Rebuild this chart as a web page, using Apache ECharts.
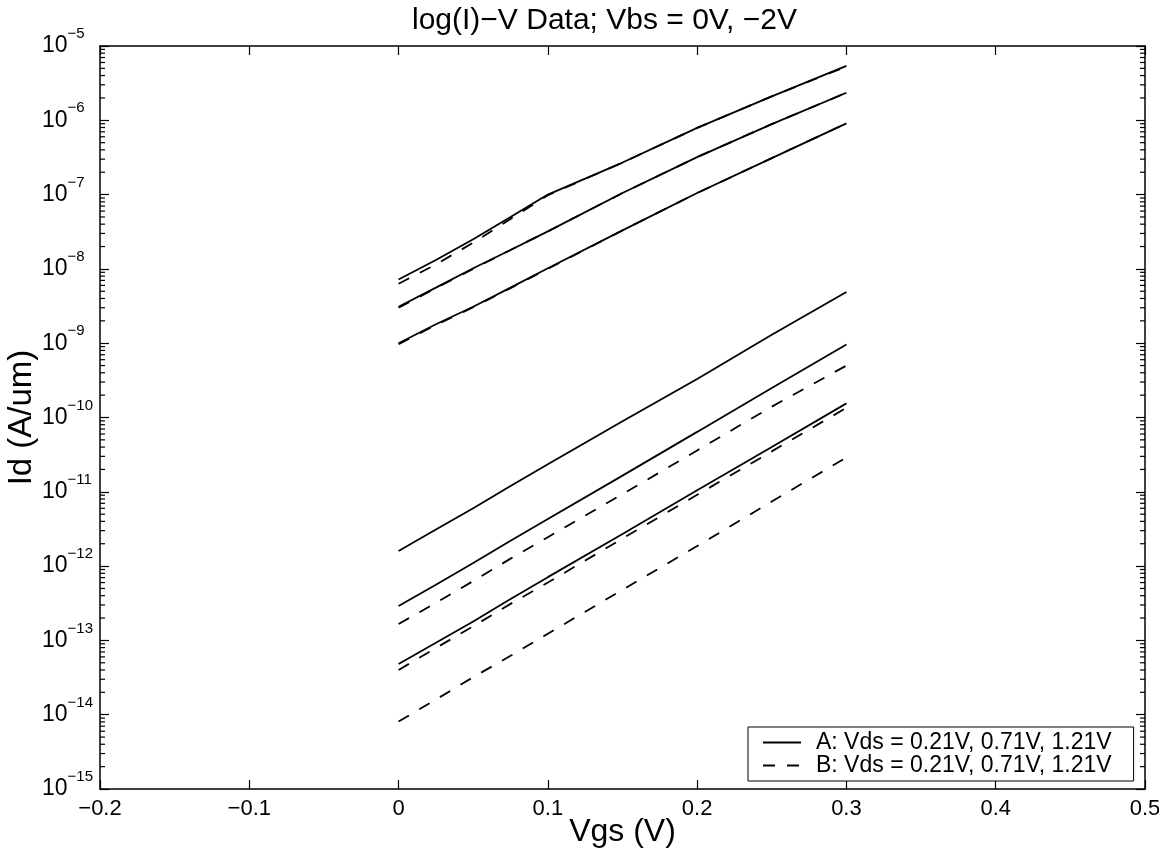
<!DOCTYPE html>
<html><head><meta charset="utf-8">
<script src="https://cdn.jsdelivr.net/npm/echarts@6/dist/echarts.min.js"></script>
<style>html,body{margin:0;padding:0;background:#fff}#c{width:1159px;height:858px}</style>
</head><body><div id="c"></div>
<script>
// Gate voltage samples (V)
const vgs = [0, 0.025, 0.05, 0.075, 0.1, 0.15, 0.2, 0.25, 0.3];

// Vbs = 0 V group (upper)
const aVbs0_121 = [7.2e-9, 1.32e-8, 2.5e-8, 5.0e-8, 1.0e-7, 2.7e-7, 7.9e-7, 2.1e-6, 5.4e-6];
const aVbs0_071 = [3.1e-9, 5.6e-9, 1.02e-8, 1.8e-8, 3.2e-8, 1.05e-7, 3.2e-7, 8.9e-7, 2.35e-6];
const aVbs0_021 = [1.0e-9, 1.8e-9, 3.1e-9, 5.6e-9, 1.02e-8, 3.3e-8, 1.05e-7, 3.1e-7, 9.1e-7];
const bVbs0_121 = [6.3e-9, 1.15e-8, 2.25e-8, 4.7e-8, 9.8e-8, 2.7e-7, 7.9e-7, 2.1e-6, 5.3e-6];
const bVbs0_071 = [3.0e-9, 5.5e-9, 1.0e-8, 1.8e-8, 3.2e-8, 1.05e-7, 3.2e-7, 8.9e-7, 2.35e-6];
const bVbs0_021 = [0.97e-9, 1.75e-9, 3.05e-9, 5.5e-9, 1.0e-8, 3.3e-8, 1.05e-7, 3.1e-7, 9.1e-7];

// Vbs = -2 V group (lower)
const aVbs2_121 = [1.6e-12, 3.1e-12, 6.0e-12, 1.2e-11, 2.35e-11, 8.9e-11, 3.3e-10, 1.3e-9, 4.9e-9];
const aVbs2_071 = [2.9e-13, 5.6e-13, 1.1e-12, 2.2e-12, 4.3e-12, 1.65e-11, 6.4e-11, 2.5e-10, 9.6e-10];
const aVbs2_021 = [4.8e-14, 9.3e-14, 1.8e-13, 3.6e-13, 7.1e-13, 2.7e-12, 1.05e-11, 4.0e-11, 1.55e-10];
const bVbs2_121 = [1.66e-13, 3.2e-13, 6.3e-13, 1.26e-12, 2.45e-12, 9.3e-12, 3.6e-11, 1.4e-10, 5.0e-10];
const bVbs2_071 = [4.0e-14, 7.9e-14, 1.55e-13, 3.1e-13, 6.0e-13, 2.35e-12, 9.1e-12, 3.5e-11, 1.35e-10];
const bVbs2_021 = [8.1e-15, 1.6e-14, 3.2e-14, 6.2e-14, 1.23e-13, 4.8e-13, 1.86e-12, 7.4e-12, 2.9e-11];

const legendA = 'A: Vds = 0.21V, 0.71V, 1.21V';
const legendB = 'B: Vds = 0.21V, 0.71V, 1.21V';
const titleText = 'log(I)\u2212V Data; Vbs = 0V, \u22122V';
const xName = 'Vgs (V)';
const yName = 'Id (A/um)';
const xTickLabels = ['\u22120.2', '\u22120.1', '0', '0.1', '0.2', '0.3', '0.4', '0.5'];
const yTickExps = ['\u221215', '\u221214', '\u221213', '\u221212', '\u221211', '\u221210', '\u22129', '\u22128', '\u22127', '\u22126', '\u22125'];
const minorMult = [2, 3, 4, 5, 6, 7, 8, 9];

const FONT = '"Liberation Sans", Arial, Helvetica, sans-serif';

function lineSeries(name, ys, dashed) {
  return {
    type: 'line', name: name,
    data: vgs.map((x, i) => [x, ys[i]]),
    symbol: 'none', showSymbol: false, smooth: false,
    lineStyle: { color: '#000', width: 1.8, type: dashed ? [12, 12] : 'solid' },
    itemStyle: { color: '#000' },
    emphasis: { disabled: true },
    silent: true, z: 3
  };
}

const minorData = [];
for (let e = -15; e < -5; e++) {
  minorMult.forEach(m => minorData.push([0, m * Math.pow(10, e)]));
}

const series = [
  lineSeries(legendA, aVbs0_121, false),
  lineSeries(legendA, aVbs0_071, false),
  lineSeries(legendA, aVbs0_021, false),
  lineSeries(legendA, aVbs2_121, false),
  lineSeries(legendA, aVbs2_071, false),
  lineSeries(legendA, aVbs2_021, false),
  lineSeries(legendB, bVbs0_121, true),
  lineSeries(legendB, bVbs0_071, true),
  lineSeries(legendB, bVbs0_021, true),
  lineSeries(legendB, bVbs2_121, true),
  lineSeries(legendB, bVbs2_071, true),
  lineSeries(legendB, bVbs2_021, true),
  {
    type: 'custom', name: 'minorTicks', silent: true, clip: false, z: 4,
    data: minorData, encode: { x: 0, y: 1 },
    renderItem: function (params, api) {
      const cs = params.coordSys;
      const y = api.coord([0, api.value(1)])[1];
      const st = { stroke: '#000', lineWidth: 1.2 };
      return { type: 'group', children: [
        { type: 'line', shape: { x1: cs.x, y1: y, x2: cs.x + 5, y2: y }, style: st },
        { type: 'line', shape: { x1: cs.x + cs.width - 5, y1: y, x2: cs.x + cs.width, y2: y }, style: st }
      ]};
    }
  }
];

const axisLine = { show: true, onZero: false, lineStyle: { color: '#000', width: 1.5 } };
const axisTick = { show: true, inside: true, length: 9, lineStyle: { color: '#000', width: 1.2 } };

const chart = echarts.init(document.getElementById('c'), null, { renderer: 'canvas' });
chart.setOption({
  animation: false,
  backgroundColor: '#fff',
  textStyle: { fontFamily: FONT },
  title: {
    text: titleText, left: 412, top: 0, padding: [6, 0, 0, 0],
    textStyle: { fontSize: 30, fontWeight: 'normal', color: '#000', fontFamily: FONT }
  },
  legend: {
    orient: 'vertical', left: 748, top: 727,
    data: [legendA, legendB],
    itemWidth: 38, itemHeight: 14, itemGap: 0,
    padding: [4, 22, 4, 14],
    borderColor: '#000', borderWidth: 1, backgroundColor: '#fff',
    selectedMode: false,
    itemStyle: { opacity: 0 },
    textStyle: { fontSize: 23, color: '#000', fontFamily: FONT, padding: [0, 0, 0, 10] }
  },
  grid: { left: 100, right: 14, top: 46, bottom: 69, containLabel: false, outerBoundsMode: 'none' },
  xAxis: [
    {
      type: 'value', position: 'bottom', min: -0.2, max: 0.5, interval: 0.1,
      axisLine: axisLine, axisTick: axisTick, splitLine: { show: false },
      axisLabel: {
        color: '#000', fontSize: 22, margin: 9, fontFamily: FONT,
        formatter: v => xTickLabels[Math.round((v + 0.2) / 0.1)]
      },
      name: xName, nameLocation: 'middle', nameGap: 27, nameMoveOverlap: false,
      nameTextStyle: { fontSize: 32, color: '#000', fontFamily: FONT }
    },
    {
      type: 'value', position: 'top', min: -0.2, max: 0.5, interval: 0.1,
      axisLine: axisLine, axisTick: axisTick, splitLine: { show: false },
      axisLabel: { show: false }
    }
  ],
  yAxis: [
    {
      type: 'log', logBase: 10, position: 'left', min: 1e-15, max: 1e-5, splitNumber: 10,
      axisLine: axisLine, axisTick: axisTick, splitLine: { show: false },
      axisLabel: {
        margin: 58, align: 'left', color: '#000',
        formatter: v => '{b|10}{s|' + yTickExps[Math.round(Math.log10(v)) + 15] + '}',
        rich: {
          b: { fontSize: 23, fontFamily: FONT, color: '#000', padding: [8, 0, 8, 0], verticalAlign: 'middle' },
          s: { fontSize: 15, fontFamily: FONT, color: '#000', lineHeight: 18, verticalAlign: 'top' }
        }
      },
      name: yName, nameLocation: 'middle', nameGap: 62, nameMoveOverlap: false,
      nameTextStyle: { fontSize: 33, color: '#000', fontFamily: FONT }
    },
    {
      type: 'log', logBase: 10, position: 'right', min: 1e-15, max: 1e-5, splitNumber: 10,
      axisLine: axisLine, axisTick: axisTick, splitLine: { show: false },
      axisLabel: { show: false }
    }
  ],
  series: series
});
</script>
</body></html>
